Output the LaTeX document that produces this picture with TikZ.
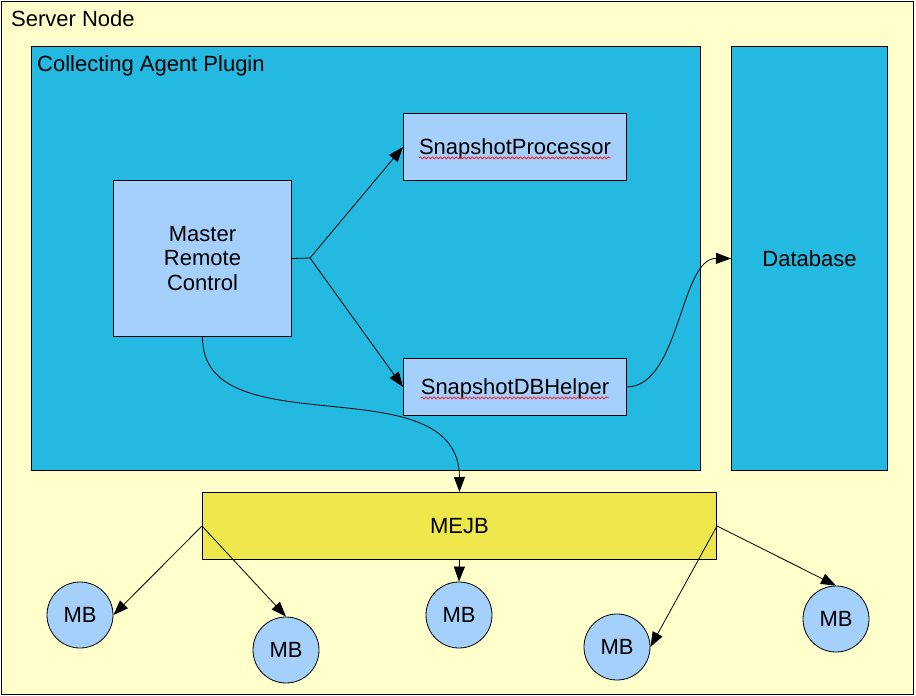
\documentclass[tikz,border=0pt]{standalone}
\usepackage{fontspec}
\setmainfont{Liberation Sans}
\usetikzlibrary{arrows.meta,decorations.pathmorphing}
\definecolor{nodebg}{RGB}{255,255,204}
\definecolor{plugincol}{RGB}{35,185,224}
\definecolor{lightbox}{RGB}{166,208,252}
\definecolor{mejbcol}{RGB}{239,232,76}
\begin{document}
\fontsize{22}{24.7}\selectfont
\begin{tikzpicture}[x=1pt,y=-1pt,
  frame/.style={draw=black,line width=1pt,inner sep=0pt,anchor=north west},
  single/.style={text height=15.75pt,text depth=0pt},
  plain/.style={inner sep=0pt,anchor=base west},
  container/.style={frame,fill=plugincol},
  lbox/.style={frame,fill=lightbox,single},
  mbnode/.style={circle,draw=black,line width=0.8pt,fill=lightbox,minimum size=66pt,inner sep=0pt,single},
  conn/.style={draw=black,line width=0.8pt},
  arr/.style={conn,-{Triangle[length=15pt,width=11pt]}},
  wavy/.style={draw=red,line width=0.6pt,decorate,decoration={snake,amplitude=1.1pt,segment length=4pt}}
]
\useasboundingbox (0,0) rectangle (916,696);
% Server node
\node[frame,fill=nodebg,minimum width=912pt,minimum height=693pt] (server) at (1,1) {};
\node[plain] (serverlbl) at (11,26) {Server Node};
% Collecting Agent Plugin
\node[container,minimum width=669pt,minimum height=424pt] (plugin) at (31,46) {};
\node[plain] (pluginlbl) at (37,71) {Collecting Agent Plugin};
% Database
\node[container,single,minimum width=156pt,minimum height=424pt] (db) at (731,46) {Database};
% inner boxes
\node[lbox,align=center,text height=,text depth=,minimum width=178pt,minimum height=156pt] (master) at (113,180) {Master\\Remote\\Control};
\node[lbox,minimum width=223pt,minimum height=67pt] (sp) at (403,113) {SnapshotProcessor};
\node[lbox,minimum width=223pt,minimum height=57pt] (sdb) at (403,358) {SnapshotDBHelper};
% MEJB
\node[frame,fill=mejbcol,single,minimum width=514pt,minimum height=67pt] (mejb) at (202,492) {MEJB};
% MB circles
\node[mbnode] (mb1) at (80,615) {MB};
\node[mbnode] (mb2) at (286,650) {MB};
\node[mbnode] (mb3) at (459,615) {MB};
\node[mbnode] (mb4) at (617,647) {MB};
\node[mbnode] (mb5) at (836,619) {MB};
% spell-check underlines
\pgfmathsetmacro\wA{width("SnapshotProcessor")}
\pgfmathsetmacro\wB{width("SnapshotDBHelper")}
\draw[wavy] ([xshift={-0.5*\wA pt},yshift=-3pt]sp.base) -- ([xshift={0.5*\wA pt},yshift=-3pt]sp.base);
\draw[wavy] ([xshift={-0.5*\wB pt},yshift=-3pt]sdb.base) -- ([xshift={0.5*\wB pt},yshift=-3pt]sdb.base);
% connectors
\coordinate (branch) at (310,258);
\draw[conn] (master.east) -- (branch);
\draw[arr] (branch) -- (sp.west);
\draw[arr] (branch) -- (sdb.west);
\draw[arr] (master.south) .. controls (202,450) and (459,362) .. (mejb.north);
\draw[arr] (sdb.east) .. controls (680,386) and (680,258) .. (db.west);
\draw[arr] (mejb.west) -- (mb1.east);
\draw[arr] (mejb.west) -- (mb2.north);
\draw[arr] (mejb.south) -- (mb3.north);
\draw[arr] (mejb.east) -- (mb4.east);
\draw[arr] (mejb.east) -- (mb5.north);
\end{tikzpicture}
\end{document}
